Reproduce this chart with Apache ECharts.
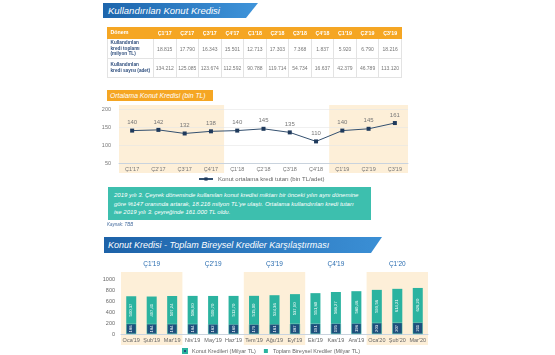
<!DOCTYPE html>
<html><head><meta charset="utf-8">
<script src="https://cdn.jsdelivr.net/npm/echarts@6/dist/echarts.min.js"></script>
<style>
html,body{margin:0;padding:0;}
body{width:555px;height:355px;overflow:hidden;background:#fff;font-family:'Liberation Sans',Arial,sans-serif;position:relative;}
#c{position:absolute;left:0;top:0;width:555px;height:355px;}
.banner{position:absolute;color:#fff;font-style:italic;white-space:nowrap;box-sizing:border-box;}
#b1{left:103px;top:3px;width:155px;height:15px;line-height:15px;font-size:9.5px;padding-left:5px;
 background:linear-gradient(to right,#1d65ac,#3f94da);clip-path:polygon(0 0,100% 0,calc(100% - 12px) 100%,0 100%);}
#b2{left:104px;top:237px;width:278px;height:16px;line-height:16px;font-size:9px;padding-left:4px;
 background:linear-gradient(to right,#1d62a8,#3b8fd5);clip-path:polygon(0 0,100% 0,calc(100% - 11px) 100%,0 100%);}
#otitle{position:absolute;left:107px;top:90px;width:106px;height:11px;line-height:11px;background:#f5a623;color:#fff;font-style:italic;font-size:6.8px;padding-left:3px;box-sizing:border-box;white-space:nowrap;}
#tbl{position:absolute;left:107px;top:27px;width:295px;border-collapse:collapse;table-layout:fixed;}
#tbl td{border:0.6px solid #e3e3e3;text-align:center;font-size:5px;color:#777;padding:0;}
#tbl tr.h td{background:#f5a623;color:#fff;font-weight:bold;font-size:5.3px;height:10px;border-color:#f5a623;}
#tbl td.lab{text-align:left;padding-left:2.5px;color:#2e4e7d;font-weight:bold;font-size:4.7px;line-height:5.6px;white-space:nowrap;}
#tbl tr.h td.lab{color:#fff;font-size:5.3px;}
#note{position:absolute;left:108px;top:187px;width:263px;height:33px;background:#3dbfae;color:#fff;font-style:italic;font-size:6px;line-height:8.5px;padding:4px 0 0 6px;box-sizing:border-box;white-space:nowrap;}
#src{position:absolute;left:107px;top:222px;font-size:4.5px;color:#4a6fa0;font-style:italic;}
</style></head>
<body>
<div id="c"></div>
<div class="banner" id="b1">Kullandırılan Konut Kredisi</div>
<table id="tbl"></table>
<div id="otitle">Ortalama Konut Kredisi (bin TL)</div>
<div id="note">2019 yılı 3. Çeyrek döneminde kullanılan konut kredisi miktarı bir önceki yılın aynı dönemine<br>göre %147 oranında artarak, 18.216 milyon TL'ye ulaştı. Ortalama kullandırılan kredi tutarı<br>ise 2019 yılı 3. çeyreğinde 161.000 TL oldu.</div>
<div id="src">Kaynak: TBB</div>
<div class="banner" id="b2">Konut Kredisi - Toplam Bireysel Krediler Karşılaştırması</div>
<script>
// ---- data ----
const quarters = ["Ç1'17","Ç2'17","Ç3'17","Ç4'17","Ç1'18","Ç2'18","Ç3'18","Ç4'18","Ç1'19","Ç2'19","Ç3'19"];
const creditAmount = [18815,17790,16343,15501,12713,17303,7368,1837,5920,6790,18216];
const creditCount = [134212,125085,123674,112592,90788,119714,54734,16637,42379,46789,113120];
const avgCredit = [140,142,132,138,140,145,135,110,140,145,161];
const months = ["Oca'19","Şub'19","Mar'19","Nis'19","May'19","Haz'19","Tem'19","Ağu'19","Eyl'19","Eki'19","Kas'19","Ara'19","Oca'20","Şub'20","Mar'20"];
const housingLoans = [186,184,184,184,182,180,179,181,187,191,195,198,203,207,211];
const totalLoans = [500.37,497.41,507.24,508.90,509.70,512.70,515.00,524.36,537.90,551.80,568.27,580.46,599.56,614.21,626.20];
const sharePct = [37.1,36.9,36.2,36.1,35.8,35.2,34.8,34.5,34.7,34.7,34.3,34.1,33.8,33.7,33.8];
const barQuarters = ["Ç1'19","Ç2'19","Ç3'19","Ç4'19","Ç1'20"];

// ---- table ----
const fmt = n => String(n).replace(/\B(?=(\d{3})+(?!\d))/g,'.');
let html = '<colgroup><col style="width:46px">' + quarters.map(()=>'<col>').join('') + '</colgroup>';
html += '<tr class="h"><td class="lab">Dönem</td>' + quarters.map(q=>'<td>'+q+'</td>').join('') + '</tr>';
html += '<tr style="height:20px"><td class="lab">Kullandırılan<br>kredi toplamı<br>(milyon TL)</td>' + creditAmount.map(v=>'<td>'+fmt(v)+'</td>').join('') + '</tr>';
html += '<tr style="height:19px"><td class="lab">Kullandırılan<br>kredi sayısı (adet)</td>' + creditCount.map(v=>'<td>'+fmt(v)+'</td>').join('') + '</tr>';
document.getElementById('tbl').innerHTML = html;

// ---- charts ----
const chart = echarts.init(document.getElementById('c'), null, {renderer:'canvas'});
const FONT = 'Liberation Sans';
const option = {
  backgroundColor: 'transparent',
  animation: false,
  textStyle: {fontFamily: FONT},
  grid: [
    {left: 119, right: 147, top: 109, bottom: 192},
    {left: 121, right: 127, top: 279, bottom: 21}
  ],
  legend: [
    {data: ['Konut ortalama kredi tutarı (bin TL/adet)'], left: 198, top: 176, itemWidth: 14, itemHeight: 4,
     textStyle: {fontSize: 6, color: '#666', fontFamily: FONT}, padding: 0},
    {data: ['Konut Kredileri (Milyar TL)','Toplam Bireysel Krediler (Milyar TL)'], left: 182, top: 348, itemWidth: 4, itemHeight: 4, itemGap: 8, icon: 'rect',
     textStyle: {fontSize: 5.5, color: '#666', fontFamily: FONT}, padding: 0}
  ],
  xAxis: [
    {type: 'category', gridIndex: 0, data: quarters, boundaryGap: true,
     axisLine: {lineStyle: {color: '#c9d3de'}}, axisTick: {show: false},
     axisLabel: {fontSize: 5.5, color: '#777', margin: 3}},
    {type: 'category', gridIndex: 1, data: months,
     axisLine: {lineStyle: {color: '#c9d3de'}}, axisTick: {show: false},
     axisLabel: {fontSize: 5.5, color: '#666', margin: 3, interval: 0}},
    {type: 'category', gridIndex: 1, data: barQuarters, position: 'top',
     axisLine: {show: false}, axisTick: {show: false},
     axisLabel: {fontSize: 6.5, color: '#2a6db0', margin: 11, interval: 0}}
  ],
  yAxis: [
    {type: 'value', gridIndex: 0, min: 50, max: 200, interval: 50,
     axisLine: {show: false}, axisTick: {show: false},
     splitLine: {lineStyle: {color: '#e6e6e6', width: 0.6}},
     axisLabel: {fontSize: 5.5, color: '#777', margin: 8}},
    {type: 'value', gridIndex: 1, min: 0, max: 1000, interval: 200,
     axisLine: {show: false}, axisTick: {show: false}, splitLine: {show: false},
     axisLabel: {fontSize: 5.5, color: '#666', margin: 6, formatter: v => String(v)}}
  ],
  series: [
    {name: 'Konut ortalama kredi tutarı (bin TL/adet)', type: 'line', xAxisIndex: 0, yAxisIndex: 0, data: avgCredit,
     lineStyle: {color: '#34506f', width: 1}, itemStyle: {color: '#1f3a5c'},
     symbol: 'rect', symbolSize: 4,
     label: {show: true, position: 'top', distance: 3, fontSize: 6, color: '#777'}},
    {name: 'Konut Kredileri (Milyar TL)', type: 'bar', xAxisIndex: 1, yAxisIndex: 1, stack: 'k', data: housingLoans, barWidth: 10,
     itemStyle: {color: '#1e4f7c', borderColor: '#2bb3a0', borderWidth: 0.5},
     label: {show: true, position: 'inside', rotate: 90, fontSize: 4.2, color: '#fff'}},
    {name: 'Toplam Bireysel Krediler (Milyar TL)', type: 'bar', xAxisIndex: 1, yAxisIndex: 1, stack: 'k', data: totalLoans, barWidth: 10,
     itemStyle: {color: '#2bb3a0'},
     label: {show: true, position: 'inside', rotate: 90, fontSize: 4.2, color: '#fff',
       formatter: p => p.value.toFixed(2).replace('.', ',')}},
    {name: 'pct', type: 'scatter', xAxisIndex: 1, yAxisIndex: 1,
     data: housingLoans.map((v,i) => v + totalLoans[i]), symbolSize: 1, itemStyle: {opacity: 0},
     label: {show: true, position: 'top', distance: 2, fontSize: 5, color: '#55708f',
       formatter: p => '%' + String(sharePct[p.dataIndex].toFixed(1)).replace('.', ',')}}
  ]
};
chart.setOption(option);

function shade(xAxisIndex, yAxisIndex, from, to, yTopVal, yBotVal, padTop, padBot) {
  const x0 = chart.convertToPixel({xAxisIndex}, 0);
  const x1 = chart.convertToPixel({xAxisIndex}, 1);
  const bw = x1 - x0;
  const a = chart.convertToPixel({xAxisIndex}, from) - bw/2;
  const b = chart.convertToPixel({xAxisIndex}, to) + bw/2;
  const yt = chart.convertToPixel({yAxisIndex}, yTopVal) - padTop;
  const yb = chart.convertToPixel({yAxisIndex}, yBotVal) + padBot;
  return {type: 'rect', z: -10, silent: true, shape: {x: a, y: yt, width: b - a, height: yb - yt}, style: {fill: '#fdefd8'}};
}
chart.setOption({graphic: [
  shade(0, 0, 0, 3, 200, 50, 4, 10),
  shade(0, 0, 8, 10, 200, 50, 4, 10),
  shade(1, 1, 0, 2, 1000, 0, 7, 11),
  shade(1, 1, 6, 8, 1000, 0, 7, 11),
  shade(1, 1, 12, 14, 1000, 0, 7, 11)
]});
</script>
</body></html>
